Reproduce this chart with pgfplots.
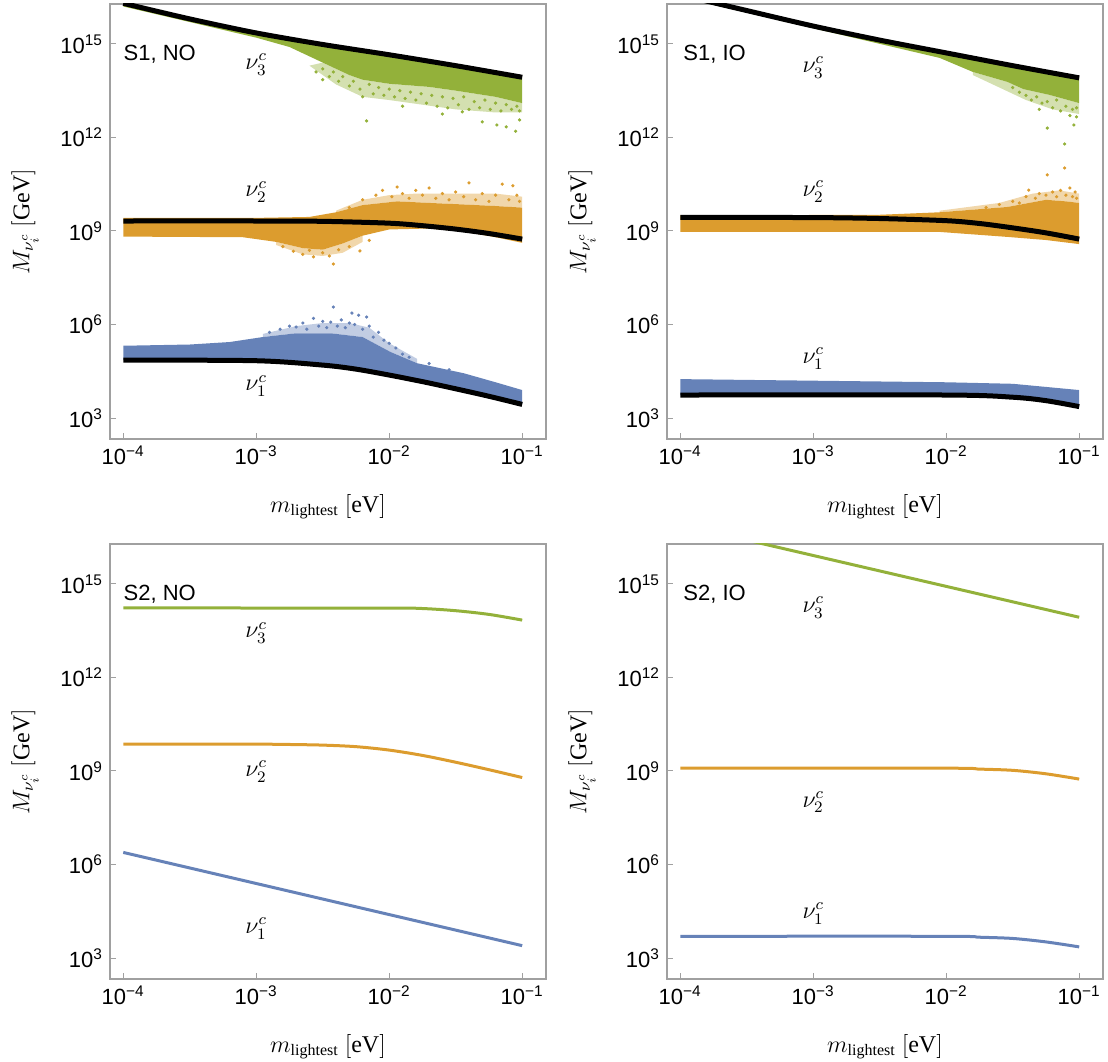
\documentclass[border=0pt]{standalone}
\usepackage{fontspec}
\setmainfont{Liberation Serif}
\setsansfont{Liberation Sans}
\usepackage{pgfplots}
\pgfplotsset{compat=1.18}

\definecolor{nublue}{HTML}{6682B8}
\definecolor{nuorange}{HTML}{DC9C2E}
\definecolor{nugreen}{HTML}{93B13A}
\definecolor{framegray}{HTML}{A0A0A0}

\pgfplotsset{
  myaxis/.style={
    anchor=south west,
    scale only axis, width=218pt, height=217.5pt,
    xmin=7.95e-5, xmax=0.151, ymin=214, ymax=1.9e16,
    xtick={1e-4,1e-3,1e-2,1e-1},
    xticklabels={10\textsuperscript{−4},10\textsuperscript{−3},10\textsuperscript{−2},10\textsuperscript{−1}},
    ytick={1e3,1e6,1e9,1e12,1e15},
    yticklabels={10\textsuperscript{3},10\textsuperscript{6},10\textsuperscript{9},10\textsuperscript{12},10\textsuperscript{15}},
    xminorticks=false, yminorticks=false,
    tick align=inside, major tick length=3pt,
    xtick pos=bottom, ytick pos=left,
    tick style={framegray, line width=0.5pt},
    axis line style={framegray, line width=0.6pt},
    ticklabel style={font=\fontsize{11}{13}\sffamily},
    xlabel={$m_{\mathrm{lightest}}\ [\mathrm{eV}]$},
    ylabel={$M_{\nu_i^c}\ [\mathrm{GeV}]$},
    label style={font=\fontsize{12}{14}\selectfont},
    xlabel style={at={(axis description cs:0.5,-0.156)}, anchor=center},
    ylabel style={at={(axis description cs:-0.195,0.5)}, anchor=center},
  },
  mband/.style={draw=none, fill=#1},
  msparse/.style={draw=none, fill=#1!40},
  mdots/.style={only marks, mark=*, mark size=0.6pt, color=#1},
  mbline/.style={black, line width=2.5pt, smooth},
  mcline/.style={#1, line width=1.5pt, smooth},
}
\tikzset{
  nulab/.style={font=\fontsize{12}{14}\selectfont},
  plab/.style={anchor=west, inner sep=0pt, font=\fontsize{11}{13}\sffamily},
}

\begin{document}
\begin{tikzpicture}
\path[use as bounding box] (0,0) rectangle (554pt,530.5pt);

% S1, NO
\begin{loglogaxis}[myaxis, at={(55pt,311pt)}]
% sparse fringes of the scatter clouds
\addplot[msparse=nugreen] coordinates {(3.162e-3,2.51e14) (5.012e-3,1e14) (6.31e-3,7.08e13) (1e-2,5.25e13) (1.995e-2,4.17e13) (3.162e-2,3.16e13) (6.31e-2,2.0e13) (0.1,1.26e13)
 (0.1,6.31e12) (6.31e-2,6.31e12) (3.162e-2,7.94e12) (1e-2,1.58e13) (6.31e-3,2e13) (3.981e-3,5.01e13) (2.512e-3,2e14)} --cycle;
\addplot[msparse=nuorange] coordinates {(3.981e-3,3.98e9) (6.31e-3,6.76e9) (1.148e-2,8.91e9) (1.995e-2,7.94e9) (3.631e-2,7.08e9) (6.31e-2,6.31e9) (0.1,5.62e9)
 (0.1,1.26e10) (6.31e-2,1.58e10) (3.162e-2,1.58e10) (1.585e-2,1.58e10) (1e-2,1.41e10) (6.31e-3,1e10) (3.981e-3,4.47e9)} --cycle;
\addplot[msparse=nuorange] coordinates {(1.413e-3,4.47e8) (2.239e-3,2.82e8) (3.162e-3,2.51e8) (4.467e-3,3.98e8) (6.31e-3,7.08e8)
 (6.31e-3,4.47e8) (4.467e-3,2e8) (3.162e-3,1.58e8) (2.239e-3,1.78e8) (1.413e-3,3.55e8)} --cycle;
\addplot[msparse=nublue] coordinates {(1.122e-3,3.98e5) (1.995e-3,5.25e5) (3.631e-3,5.25e5) (6.31e-3,3.98e5) (1.023e-2,1.32e5) (1.622e-2,5.75e4)
 (1.622e-2,7.94e4) (1e-2,2.51e5) (7.079e-3,7.94e5) (5.012e-3,1.12e6) (3.162e-3,1.12e6) (1.995e-3,8.91e5) (1.122e-3,5.01e5)} --cycle;
% dense cores
\addplot[mband=nugreen] coordinates {(1e-4,2.0e16) (3.162e-4,6.31e15) (1e-3,2.24e15) (3.162e-3,9.55e14) (1e-2,4.47e14) (3.162e-2,2.0e14) (0.1,8.5e13)
 (0.1,1.26e13) (6.31e-2,2.0e13) (3.162e-2,3.16e13) (1.995e-2,4.17e13) (1e-2,5.25e13) (6.31e-3,7.08e13) (5.012e-3,1e14) (3.162e-3,2.51e14) (1.778e-3,7.94e14) (1e-3,1.58e15) (3.162e-4,5.01e15) (1e-4,1.58e16)} --cycle;
\addplot[mdots=nugreen] coordinates {(2.818e-3,1.26e14) (3.162e-3,1.58e14) (3.548e-3,8.91e13) (3.802e-3,1.26e14) (4.169e-3,6.31e13) (4.467e-3,8.91e13) (5.012e-3,4.47e13) (5.37e-3,6.31e13) (6.026e-3,3.55e13) (6.761e-3,3.39e12) (7.079e-3,5.01e13) (7.586e-3,2.51e13) (8.318e-3,3.98e13) (9.12e-3,2.24e13) (1e-2,3.55e13) (1.096e-2,2e13) (1.202e-2,3.16e13) (1.318e-2,1.78e13) (1.445e-2,2.82e13) (1.585e-2,1.58e13) (1.738e-2,2.51e13) (1.905e-2,1.26e13) (2.089e-2,2.24e13) (2.291e-2,1e13) (2.512e-2,2e13) (2.754e-2,8.91e12) (3.02e-2,1.78e13) (3.311e-2,1.12e13) (3.631e-2,2e13) (3.981e-2,7.94e12) (4.365e-2,1.41e13) (4.786e-2,8.91e12) (5.248e-2,1.58e13) (5.754e-2,7.94e12) (6.31e-2,1.26e13) (6.918e-2,7.08e12) (7.586e-2,1.12e13) (8.318e-2,7.94e12) (9.12e-2,1e13) (9.55e-2,7.08e12) (5.012e-2,3.16e12) (6.457e-2,2.51e12) (7.586e-2,2.19e12) (8.913e-2,1.58e12) (9.55e-2,3.63e12) (2.512e-2,5.62e12) (3.548e-2,6.61e12) (1.259e-2,1e13) (6.31e-3,2e13) (3.162e-3,7.08e13)};
\addplot[mband=nuorange] coordinates {(1e-4,2.63e9) (1e-3,2.63e9) (2.512e-3,2.82e9) (3.981e-3,3.98e9) (6.31e-3,6.76e9) (1.148e-2,8.91e9) (1.995e-2,7.94e9) (3.631e-2,7.08e9) (6.31e-2,6.31e9) (0.1,5.62e9)
 (0.1,4.17e8) (6.31e-2,6.31e8) (3.631e-2,9.55e8) (1.995e-2,1.2e9) (1e-2,1.12e9) (6.31e-3,7.08e8) (4.467e-3,3.98e8) (3.162e-3,2.51e8) (2.239e-3,2.82e8) (1.413e-3,4.47e8) (7.943e-4,6.31e8) (1e-4,6.61e8)} --cycle;
\addplot[mdots=nuorange] coordinates {(5.012e-3,5.62e9) (6.31e-3,1e10) (7.943e-3,1.41e10) (8.913e-3,2e10) (1.047e-2,1.26e10) (1.148e-2,2.57e10) (1.259e-2,1.58e10) (1.413e-2,1.12e10) (1.585e-2,2e10) (1.778e-2,1.41e10) (1.995e-2,2.4e10) (2.239e-2,1.12e10) (2.512e-2,1.58e10) (2.818e-2,1e10) (3.162e-2,1.78e10) (3.631e-2,1.26e10) (3.981e-2,3.47e10) (4.467e-2,1e10) (5.012e-2,1.58e10) (5.623e-2,8.91e9) (6.31e-2,1.41e10) (7.079e-2,3.16e10) (7.943e-2,1e10) (8.511e-2,2.82e10) (9.12e-2,1.41e10) (9.55e-2,8.91e9)
 (1.585e-3,3.16e8) (1.905e-3,2.24e8) (2.239e-3,1.78e8) (2.512e-3,2.4e8) (2.692e-3,1.48e8) (3.162e-3,2e8) (3.548e-3,1.58e8) (3.802e-3,8.71e7) (4.169e-3,2.51e8) (5.012e-3,3.16e8) (6.026e-3,2.29e8) (7.079e-3,5.01e8)};
\addplot[mband=nublue] coordinates {(1e-4,2.09e5) (3.162e-4,2.29e5) (6.31e-4,2.75e5) (1.122e-3,3.98e5) (1.995e-3,5.25e5) (3.631e-3,5.25e5) (6.31e-3,3.98e5) (1.023e-2,1.32e5) (1.622e-2,5.75e4) (3.631e-2,2.75e4) (6.31e-2,1.41e4) (0.1,7.94e3)
 (0.1,2.75e3) (5.623e-2,5.01e3) (3.162e-2,8.71e3) (1.778e-2,1.48e4) (1e-2,2.4e4) (5.623e-3,3.72e4) (3.162e-3,5.01e4) (1e-3,6.92e4) (1e-4,7.24e4)} --cycle;
\addplot[mdots=nublue] coordinates {(1.259e-3,5.62e5) (1.514e-3,7.08e5) (1.778e-3,8.91e5) (1.995e-3,8.32e5) (2.239e-3,1.12e6) (2.399e-3,7.08e5) (2.692e-3,1.58e6) (2.951e-3,8.91e5) (3.162e-3,1.26e6) (3.388e-3,7.94e5) (3.631e-3,1.2e6) (3.802e-3,3.63e6) (4.074e-3,8.91e5) (4.365e-3,1.41e6) (4.677e-3,7.94e5) (5.012e-3,1.12e6) (5.248e-3,2.34e6) (5.495e-3,1e6) (5.888e-3,2e6) (6.31e-3,7.08e5) (6.761e-3,1.74e6) (7.079e-3,8.91e5) (7.586e-3,3.98e5) (8.318e-3,5.62e5) (9.12e-3,3.16e5) (1e-2,2.51e5) (1.122e-2,1.78e5) (1.259e-2,1.12e5) (1.413e-2,8.91e4) (1.995e-2,5.62e4) (2.818e-2,3.55e4)};
\addplot[mbline] coordinates {(1e-4,2.0e16) (3.162e-4,6.31e15) (1e-3,2.24e15) (3.162e-3,9.55e14) (1e-2,4.47e14) (3.162e-2,2.0e14) (0.1,8.5e13)};
\addplot[mbline] coordinates {(1e-4,2.09e9) (1e-3,2.09e9) (3.162e-3,2.04e9) (1e-2,1.78e9) (1.778e-2,1.48e9) (3.162e-2,1.15e9) (5.623e-2,8.3e8) (0.1,5.5e8)};
\addplot[mbline] coordinates {(1e-4,7.24e4) (1e-3,6.92e4) (3.162e-3,5.01e4) (5.623e-3,3.72e4) (1e-2,2.4e4) (1.778e-2,1.48e4) (3.162e-2,8.71e3) (5.623e-2,5.01e3) (0.1,2.75e3)};
\node[plab] at (axis cs:1e-4,4.6e14) {S1, NO};
\node[nulab] at (axis cs:1e-3,2.14e14) {$\nu_3^c$};
\node[nulab] at (axis cs:1e-3,1.78e10) {$\nu_2^c$};
\node[nulab] at (axis cs:1e-3,1.07e4) {$\nu_1^c$};
\end{loglogaxis}

% S1, IO
\begin{loglogaxis}[myaxis, at={(333.5pt,311pt)}]
\addplot[msparse=nugreen] coordinates {(1.585e-2,1.26e14) (2.884e-2,6.03e13) (3.802e-2,3.55e13) (6.026e-2,2.29e13) (0.1,1.26e13)
 (0.1,5.62e12) (6.31e-2,7.94e12) (3.981e-2,1.58e13) (2.512e-2,3.98e13) (1.585e-2,1e14)} --cycle;
\addplot[msparse=nuorange] coordinates {(8.913e-3,3.98e9) (2.884e-2,5.89e9) (5.623e-2,1e10) (7.943e-2,8.91e9) (0.1,7.94e9)
 (0.1,1.58e10) (7.079e-2,2e10) (4.467e-2,1.58e10) (2.512e-2,7.94e9) (8.913e-3,4.47e9)} --cycle;
\addplot[mband=nugreen] coordinates {(1e-4,3.72e16) (3.162e-4,1.17e16) (1e-3,3.72e15) (3.162e-3,1.32e15) (1e-2,5.13e14) (3.162e-2,2.0e14) (0.1,8.13e13)
 (0.1,1.26e13) (6.026e-2,2.29e13) (3.802e-2,3.55e13) (2.884e-2,6.03e13) (1.585e-2,1.26e14) (8.913e-3,3.55e14) (3.162e-3,1e15) (1e-3,3.16e15) (1e-4,3.16e16)} --cycle;
\addplot[mdots=nugreen] coordinates {(3.162e-2,3.98e13) (3.548e-2,2.82e13) (3.981e-2,2.24e13) (4.365e-2,1.58e13) (4.786e-2,2e13) (5.248e-2,1.26e13) (5.754e-2,2e12) (5.754e-2,1.41e13) (6.31e-2,8.91e12) (6.761e-2,1.58e13) (7.244e-2,7.08e12) (7.762e-2,6.17e11) (7.943e-2,1e13) (8.511e-2,5.01e12) (8.913e-2,7.94e12) (9.12e-2,2.51e12) (9.55e-2,4.57e12) (9.55e-2,8.91e12) (5.012e-2,7.94e12)};
\addplot[mband=nuorange] coordinates {(1e-4,3.16e9) (3.162e-3,3.31e9) (8.913e-3,3.98e9) (2.884e-2,5.89e9) (5.623e-2,1e10) (7.943e-2,8.91e9) (0.1,7.94e9)
 (0.1,3.8e8) (5.623e-2,5.13e8) (2.884e-2,6.46e8) (8.913e-3,9.33e8) (1e-4,9.33e8)} --cycle;
\addplot[mdots=nuorange] coordinates {(1.995e-2,5.62e9) (2.512e-2,7.08e9) (3.162e-2,8.91e9) (3.548e-2,7.94e9) (3.981e-2,1.26e10) (4.169e-2,2.04e10) (4.677e-2,1.12e10) (5.012e-2,1.58e10) (5.623e-2,1.41e10) (6.31e-2,1.78e10) (6.761e-2,1.26e10) (7.244e-2,2e10) (7.943e-2,1.41e10) (8.511e-2,2.4e10) (8.913e-2,1.26e10) (9.333e-2,1.78e10) (9.55e-2,1.12e10) (5.754e-2,6.31e10) (7.762e-2,1.05e11)};
\addplot[mband=nublue] coordinates {(1e-4,1.78e4) (1e-2,1.41e4) (3.162e-2,1.26e4) (0.1,7.94e3)
 (0.1,2.34e3) (5.623e-2,3.63e3) (3.162e-2,4.68e3) (1e-2,5.5e3) (1e-4,5.5e3)} --cycle;
\addplot[mbline] coordinates {(1e-4,3.72e16) (3.162e-4,1.17e16) (1e-3,3.72e15) (3.162e-3,1.32e15) (1e-2,5.13e14) (3.162e-2,2.0e14) (0.1,8.13e13)};
\addplot[mbline] coordinates {(1e-4,2.75e9) (1e-3,2.69e9) (3.162e-3,2.51e9) (1e-2,2.14e9) (1.778e-2,1.74e9) (3.162e-2,1.26e9) (5.623e-2,8.71e8) (0.1,5.5e8)};
\addplot[mbline] coordinates {(1e-4,5.5e3) (1e-2,5.5e3) (3.162e-2,4.68e3) (5.623e-2,3.63e3) (0.1,2.34e3)};
\node[plab] at (axis cs:1.05e-4,4.6e14) {S1, IO};
\node[nulab] at (axis cs:1e-3,1.7e14) {$\nu_3^c$};
\node[nulab] at (axis cs:1e-3,1.86e10) {$\nu_2^c$};
\node[nulab] at (axis cs:1e-3,8.3e4) {$\nu_1^c$};
\end{loglogaxis}

% S2, NO
\begin{loglogaxis}[myaxis, at={(55pt,41pt)}]
\addplot[mcline=nugreen] coordinates {(1e-4,1.7e14) (1e-2,1.66e14) (1.778e-2,1.62e14) (3.162e-2,1.38e14) (5.623e-2,1.05e14) (0.1,6.9e13)};
\addplot[mcline=nuorange] coordinates {(1e-4,7.24e9) (1e-3,7.24e9) (1.778e-3,7.08e9) (3.162e-3,6.76e9) (5.623e-3,6.03e9) (1e-2,4.68e9) (1.778e-2,3.16e9) (3.162e-2,1.91e9) (5.623e-2,1.1e9) (0.1,6.17e8)};
\addplot[mcline=nublue] coordinates {(1e-4,2.45e6) (0.1,2.51e3)};
\node[plab] at (axis cs:1e-4,4.6e14) {S2, NO};
\node[nulab] at (axis cs:1e-3,2.63e13) {$\nu_3^c$};
\node[nulab] at (axis cs:1e-3,9.77e8) {$\nu_2^c$};
\node[nulab] at (axis cs:1e-3,8.7e3) {$\nu_1^c$};
\end{loglogaxis}

% S2, IO
\begin{loglogaxis}[myaxis, at={(333.5pt,41pt)}]
\addplot[mcline=nugreen] coordinates {(1e-4,7.94e16) (0.1,8.5e13)};
\addplot[mcline=nuorange] coordinates {(1e-4,1.23e9) (1e-2,1.23e9) (1.778e-2,1.15e9) (3.162e-2,1.05e9) (5.623e-2,8.13e8) (0.1,5.5e8)};
\addplot[mcline=nublue] coordinates {(1e-4,5.01e3) (1e-2,5.01e3) (1.778e-2,4.68e3) (3.162e-2,4.27e3) (5.623e-2,3.31e3) (0.1,2.29e3)};
\node[plab] at (axis cs:1.05e-4,4.6e14) {S2, IO};
\node[nulab] at (axis cs:1e-3,1.74e14) {$\nu_3^c$};
\node[nulab] at (axis cs:1e-3,1e8) {$\nu_2^c$};
\node[nulab] at (axis cs:1e-3,2.69e4) {$\nu_1^c$};
\end{loglogaxis}
\end{tikzpicture}
\end{document}
